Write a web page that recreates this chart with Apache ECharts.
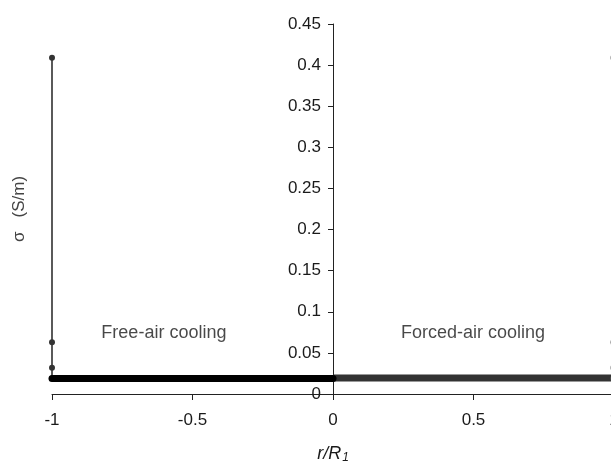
<!DOCTYPE html>
<html>
<head>
<meta charset="utf-8">
<script src="https://cdn.jsdelivr.net/npm/echarts@6/dist/echarts.min.js"></script>
<style>
  html, body { margin: 0; padding: 0; background: #fff; }
  #chart { width: 611px; height: 461px; }
</style>
</head>
<body>
<div id="chart"></div>
<script>
// DATA
var xTicks = [-1, -0.5, 0, 0.5, 1]
var yTicks = [0, 0.05, 0.1, 0.15, 0.2, 0.25, 0.3, 0.35, 0.4, 0.45]

// free-air cooling: points at the surface (r = -1) and the flat interior part
var freeEdgeR = [-1, -1, -1, -1]
var freeEdgeSigma = [0.409, 0.063, 0.032, 0.019]
var freeBodyR = [-1, -0.5, 0]
var freeBodySigma = [0.019, 0.019, 0.019]

// forced-air cooling: mirrored on the right half
var forcedBodyR = [0, 0.5, 1]
var forcedBodySigma = [0.0195, 0.0195, 0.0195]
var forcedEdgeR = [1, 1, 1, 1]
var forcedEdgeSigma = [0.019, 0.032, 0.063, 0.409]

var notes = ['Free-air cooling', 'Forced-air cooling']
var notesR = [-0.6, 0.5]
var notesSigma = [0.074, 0.074]

function pairs(xs, ys) {
    return xs.map(function (x, i) { return [x, ys[i]] })
}

var txt = '#1a1a1a'
var font = 'Liberation Sans, Arial, sans-serif'
var gridLeft = 52
var gridWidth = 562

var chart = echarts.init(document.getElementById('chart'))
var option = {
    animation: false,
    backgroundColor: '#fff',
    grid: { left: gridLeft, top: 24, width: gridWidth, height: 370, containLabel: false, outerBoundsMode: 'none' },
    xAxis: {
        type: 'value',
        min: xTicks[0],
        max: xTicks[xTicks.length - 1],
        interval: 0.5,
        splitLine: { show: false },
        axisLine: { onZero: true, lineStyle: { color: '#222', width: 1 } },
        axisTick: { show: true, length: 6, lineStyle: { color: '#222' } },
        axisLabel: { color: txt, fontSize: 17, fontFamily: font, margin: 18 },
        name: '{i|r/R}{s|1}',
        nameLocation: 'middle',
        nameGap: 49,
        nameTextStyle: {
            rich: {
                i: { fontStyle: 'italic', fontSize: 18, color: txt, fontFamily: font },
                s: { fontStyle: 'italic', fontSize: 12, color: txt, fontFamily: font, padding: [9, 0, 0, 1] }
            }
        }
    },
    yAxis: {
        type: 'value',
        min: yTicks[0],
        max: yTicks[yTicks.length - 1],
        interval: 0.05,
        // place the axis at r = 0 (middle of the grid)
        offset: -gridWidth / 2,
        splitLine: { show: false },
        axisLine: { show: true, onZero: false, lineStyle: { color: '#222', width: 1 } },
        axisTick: { show: true, length: 5, lineStyle: { color: '#222' } },
        axisLabel: { color: txt, fontSize: 17, fontFamily: font, margin: 12 },
        name: 'σ   (S/m)',
        nameLocation: 'middle',
        nameRotate: 90,
        nameGap: 305,
        nameTextStyle: { color: '#444', fontSize: 17, fontFamily: font }
    },
    series: [
        {
            name: 'free edge',
            type: 'line',
            data: pairs(freeEdgeR, freeEdgeSigma),
            symbol: 'circle',
            symbolSize: 6,
            itemStyle: { color: '#333' },
            lineStyle: { color: '#000', width: 1.3 }
        },
        {
            name: 'free body',
            type: 'line',
            data: pairs(freeBodyR, freeBodySigma),
            symbol: 'circle',
            symbolSize: 7,
            showSymbol: true,
            itemStyle: { color: '#000' },
            lineStyle: { color: '#000', width: 7 }
        },
        {
            name: 'forced body',
            type: 'line',
            data: pairs(forcedBodyR, forcedBodySigma),
            symbol: 'none',
            lineStyle: { color: '#333', width: 7 }
        },
        {
            name: 'forced edge',
            type: 'line',
            data: pairs(forcedEdgeR, forcedEdgeSigma),
            symbol: 'circle',
            symbolSize: 7,
            itemStyle: { color: '#666' },
            lineStyle: { color: '#555', width: 1 }
        },
        {
            name: 'notes',
            type: 'scatter',
            data: pairs(notesR, notesSigma).map(function (p, i) {
                return { value: p, name: notes[i] }
            }),
            symbolSize: 1,
            itemStyle: { color: 'rgba(0,0,0,0)' },
            silent: true,
            label: {
                show: true,
                position: [0, 0],
                align: 'center',
                verticalAlign: 'middle',
                formatter: '{b}',
                color: txt,
                fontSize: 18,
                fontFamily: font
            }
        }
    ]
}
chart.setOption(option)
</script>
</body>
</html>
